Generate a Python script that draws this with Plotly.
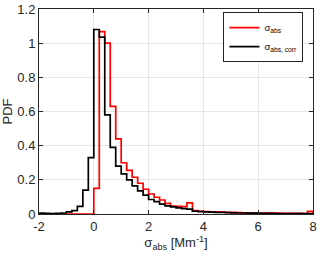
import numpy as np
import plotly.graph_objects as go

bin_start = -2.0
bin_width = 0.2

pdf_abs = [0, 0, 0, 0, 0, 0, 0, 0, 0, 0,
           0.15, 1.067, 1.0, 0.63, 0.44, 0.30, 0.255, 0.215, 0.18, 0.145,
           0.117, 0.098, 0.082, 0.062, 0.046, 0.045, 0.043, 0.065, 0.02, 0.016,
           0.014, 0.013, 0.012, 0.011, 0.01, 0.009, 0.008, 0.007, 0.007, 0.006,
           0.006, 0.005, 0.005, 0.005, 0.004, 0.004, 0.004, 0.004, 0.003, 0.015]

pdf_corr = [0.005, 0.004, 0.003, 0.004, 0.006, 0.012, 0.02, 0.045, 0.14, 0.33,
            1.08, 1.035, 0.58, 0.39, 0.28, 0.235, 0.2, 0.165, 0.135, 0.11,
            0.085, 0.072, 0.058, 0.048, 0.042, 0.036, 0.032, 0.028, 0.016, 0.014,
            0.012, 0.011, 0.01, 0.009, 0.008, 0.007, 0.006, 0.006, 0.005, 0.005,
            0.004, 0.004, 0.004, 0.003, 0.003, 0.003, 0.003, 0.002, 0.002, 0.002]

x_ticks = [-2, 0, 2, 4, 6, 8]
x_tick_labels = ["-2", "0", "2", "4", "6", "8"]
y_ticks = [0, 0.2, 0.4, 0.6, 0.8, 1, 1.2]
y_tick_labels = ["0", "0.2", "0.4", "0.6", "0.8", "1", "1.2"]


def stairs(vals):
    n = len(vals)
    edges = bin_start + bin_width * np.arange(n + 1)
    xs = [edges[0]] + list(edges[:-1]) + [edges[-1], edges[-1]]
    ys = [0] + list(vals) + [vals[-1], 0]
    return xs, ys


fig = go.Figure()
xr, yr = stairs(pdf_abs)
fig.add_trace(go.Scatter(x=xr, y=yr, mode="lines", line=dict(color="#ff0000", width=1.7, shape="hv"),
                         name="σ<sub>abs</sub>"))
xb, yb = stairs(pdf_corr)
fig.add_trace(go.Scatter(x=xb, y=yb, mode="lines", line=dict(color="#000000", width=1.7, shape="hv"),
                         name="σ<sub>abs, corr</sub>"))

axis_common = dict(showline=True, linecolor="#262626", linewidth=1, mirror="ticks",
                   ticks="inside", ticklen=4, tickcolor="#262626", automargin=False,
                   ticklabeloverflow="allow",
                   showgrid=True, gridcolor="#e6e6e6", gridwidth=1, zeroline=False,
                   tickfont=dict(size=13, color="#262626"))

fig.update_layout(
    width=320, height=256,
    margin=dict(l=39, r=7, t=9, b=42, autoexpand=False),
    paper_bgcolor="white", plot_bgcolor="white",
    font=dict(family="Liberation Sans, Arial, sans-serif", color="#262626"),
    xaxis=dict(range=[-2, 8], tickvals=x_ticks, ticktext=x_tick_labels,
               title=dict(text="σ<sub>abs</sub> [Mm<sup>-1</sup>]", font=dict(size=13), standoff=2), **axis_common),
    yaxis=dict(range=[0, 1.2], tickvals=y_ticks, ticktext=y_tick_labels,
               title=dict(text="PDF", font=dict(size=13), standoff=2), **axis_common),
    legend=dict(x=0.965, y=0.985, xanchor="right", yanchor="top", bgcolor="white",
                bordercolor="#262626", borderwidth=1, font=dict(size=9.5, color="#000"),
                tracegroupgap=0, itemwidth=30),
    showlegend=True,
)

fig.write_html("out.html", config={"displayModeBar": False},
               post_script="document.body.style.margin='0';document.body.style.padding='0';")
